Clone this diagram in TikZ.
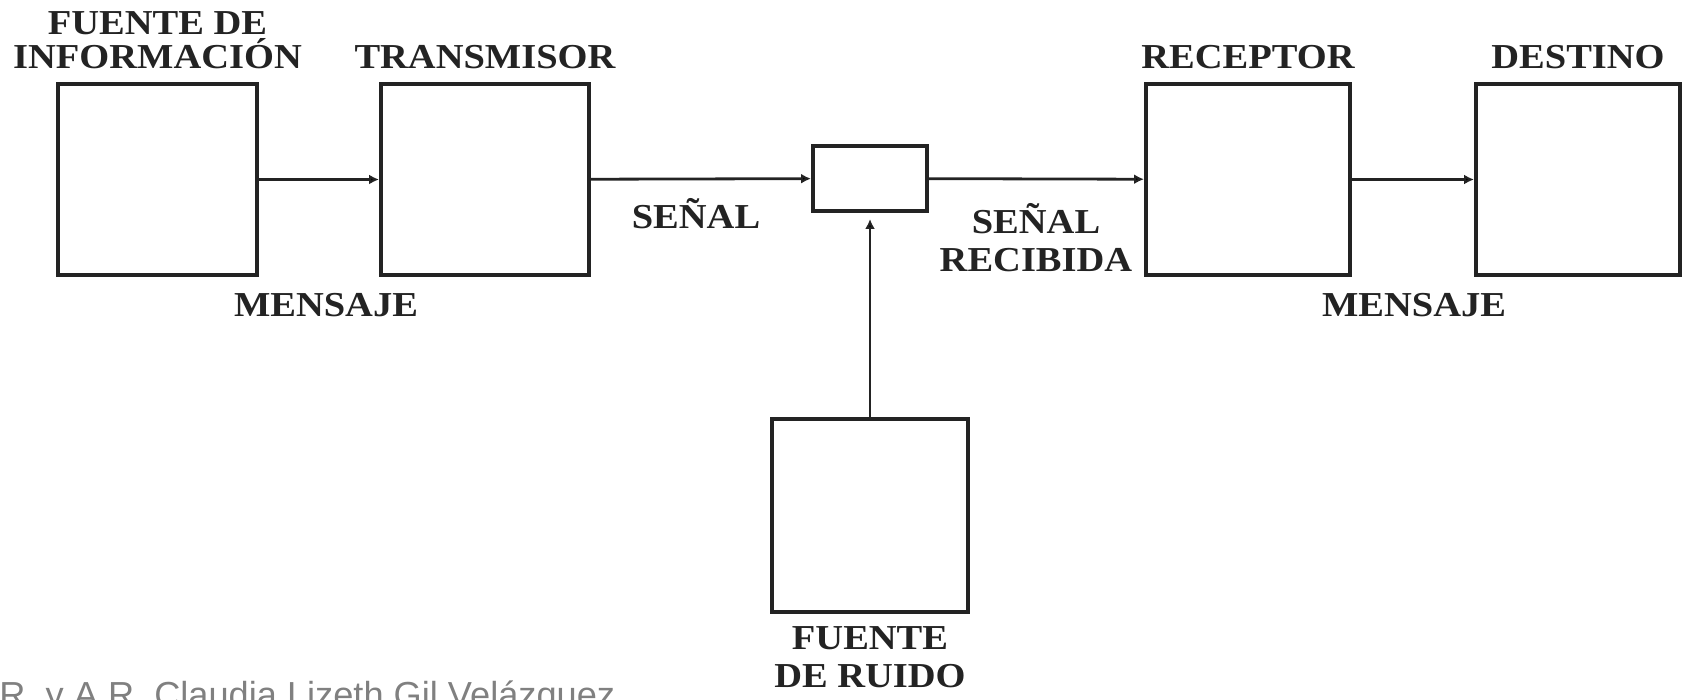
\documentclass[tikz,border=0pt]{standalone}
\usepackage{fontspec}
\setmainfont{Liberation Serif}[FakeStretch=1.1]
\newfontfamily\firmafont{Liberation Sans}
\usetikzlibrary{positioning,arrows.meta}
\definecolor{ink}{RGB}{35,35,35}
\definecolor{firmagray}{RGB}{128,128,128}

\begin{document}
\begin{tikzpicture}[x=0.5pt, y=-0.5pt, >={Latex[length=5pt,width=5pt]},
    box/.style = {draw=ink, line width=2pt, inner sep=0, minimum height=95.5pt},
    lbl/.style = {text=ink, inner sep=0, align=center, font=\bfseries\fontsize{17.5}{17}\selectfont},
    firma/.style = {text=firmagray, inner sep=0, font=\firmafont\fontsize{18.1}{20}\selectfont}]
            \useasboundingbox (0,0) rectangle (1691,700);
            \node[box, minimum width=99.5pt] (fuente) at (157.5,179.5) {};
            \node[box, minimum width=104pt] (tx) at (485,179.5) {};
            \node[box, minimum width=57pt, minimum height=32.5pt] (canal) at (870,178.5) {};
            \node[box, minimum width=102pt] (rx) at (1248,179.5) {};
            \node[box, minimum width=102pt] (dest) at (1578,179.5) {};
            \node[box, minimum width=98pt, minimum height=96.5pt] (ruido) at (870,515) {};
            \node[lbl] (tfuente) [above=6.5pt of fuente] {FUENTE DE\\INFORMACIÓN};
            \node[lbl] (ttx) [above=6.5pt of tx] {TRANSMISOR};
            \node[lbl] (trx) [above=6.5pt of rx] {RECEPTOR};
            \node[lbl] (tdest) [above=6.5pt of dest] {DESTINO};
            \node[lbl] (truido) [below=6.5pt of ruido] {FUENTE\\[2pt]DE RUIDO};
            \node[lbl, anchor=base] (msg1) at (326,316) {MENSAJE};
            \node[lbl, anchor=base] (msg2) at (1414,316) {MENSAJE};
            \node[lbl, anchor=base] (senal) at (696,228) {SEÑAL};
            \node[lbl, anchor=south] (recibida) at (1036,272) {SEÑAL\\[2pt]RECIBIDA};
            \node[firma, anchor=base west] (autora) at (-1,707) {R. y A.R. Claudia Lizeth Gil Velázquez};
            \path[->,draw=ink,line width=1.4pt]
            (fuente) edge (tx)
            (tx) edge (canal)
            (canal) edge (rx)
            (rx) edge (dest)
            (ruido) edge[shorten >=3pt] (canal);
        \end{tikzpicture}
\end{document}
